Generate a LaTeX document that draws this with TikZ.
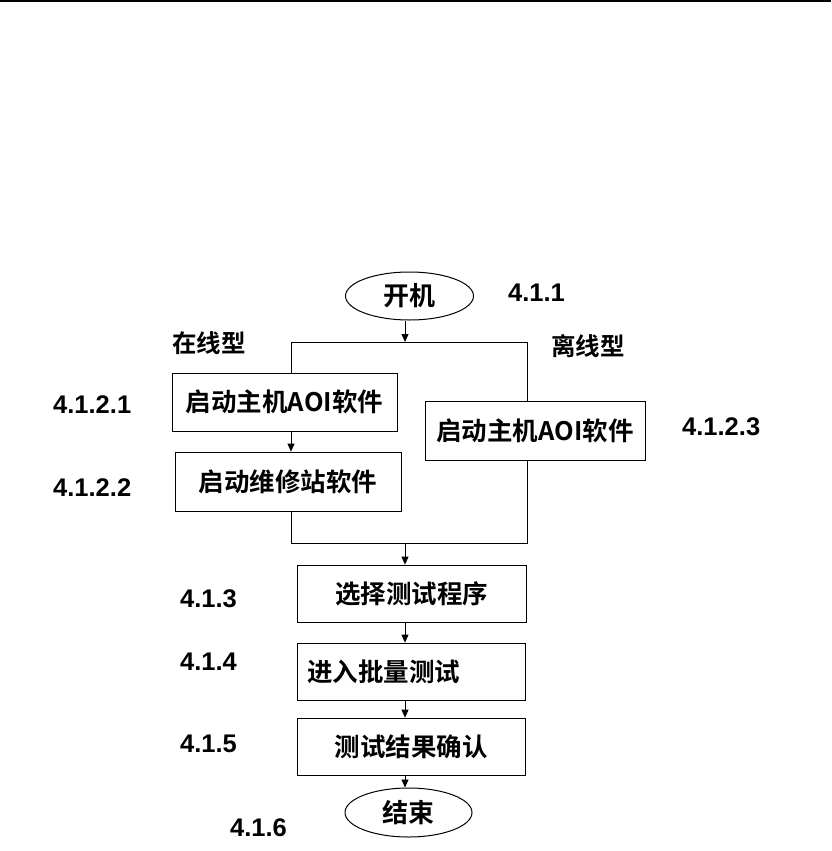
\documentclass[tikz,border=0pt]{standalone}
\usepackage{fontspec}
\setmainfont{Liberation Sans}
\newfontfamily\cjk{Noto Sans CJK SC}[BoldFont={Noto Sans CJK SC Bold}]
\newfontfamily\numf{Liberation Sans}
\usetikzlibrary{shapes.geometric,arrows.meta}
\begin{document}
\begin{tikzpicture}[x=1pt,y=-1pt,
  box/.style={draw,line width=0.8pt,rectangle,inner sep=0pt,font=\cjk\bfseries\fontsize{25.5}{28}\selectfont},
  oval/.style={draw,line width=1pt,ellipse,inner sep=0pt,font=\cjk\bfseries\fontsize{26}{28}\selectfont},
  lbl/.style={anchor=west,inner sep=0pt,font=\numf\bfseries\fontsize{25.5}{28}\selectfont},
  clbl/.style={anchor=west,inner sep=0pt,font=\cjk\bfseries\fontsize{24.5}{26}\selectfont},
  ln/.style={line width=0.8pt},
  arr/.style={line width=0.8pt,-{Triangle[length=8pt,width=7pt]}}]
\useasboundingbox (0,0) rectangle (831,851);
\fill (0,0) rectangle (831,2.3);
% nodes
\node[oval,minimum width=128pt,minimum height=48pt] (start) at (409.5,296) {开机};
\node[box,minimum width=225pt,minimum height=58pt] (b1) at (284.5,402) {启动主机AOI软件};
\node[box,minimum width=226pt,minimum height=59pt] (b2) at (288,481.5) {启动维修站软件};
\node[box,minimum width=220pt,minimum height=59pt] (b3) at (535,430.5) {启动主机AOI软件};
\node[box,minimum width=229pt,minimum height=57pt] (b4) at (411.5,593.5) {选择测试程序};
\node[box,minimum width=228pt,minimum height=57pt] (b5) at (411,671.5) {\makebox[208pt][l]{进入批量测试}};
\node[box,minimum width=228pt,minimum height=57pt] (b6) at (411,746.5) {测试结果确认};
\node[oval,minimum width=127pt,minimum height=49pt] (end) at (408.5,812.5) {结束};
% labels
\node[lbl] (l411) at (508,293) {4.1.1};
\node[clbl] (lon) at (172,343) {在线型};
\node[clbl] (loff) at (551,346) {离线型};
\node[lbl] (l4121) at (53,405) {4.1.2.1};
\node[lbl] (l4122) at (53,488) {4.1.2.2};
\node[lbl] (l4123) at (682,427) {4.1.2.3};
\node[lbl] (l413) at (180,599) {4.1.3};
\node[lbl] (l414) at (180,662) {4.1.4};
\node[lbl] (l415) at (180,744) {4.1.5};
\node[lbl] (l416) at (230,828) {4.1.6};
% junction coordinates
\coordinate (jt) at (405,342);
\coordinate (tl) at (291,342);
\coordinate (tr) at (527,342);
\coordinate (bl) at (291,543);
\coordinate (br) at (527,543);
\coordinate (jb) at (405,543);
% connectors
\draw[arr] (start.south -| jt) -- (jt);
\draw[ln] (b1.north -| tl) -- (tl) -- (tr) -- (b3.north -| tr);
\draw[arr] (b1.south -| tl) -- (b2.north -| tl);
\draw[ln] (b2.south -| bl) -- (bl) -- (br) -- (b3.south -| br);
\draw[arr] (jb) -- (b4.north -| jb);
\draw[arr] (b4.south -| jb) -- (b5.north -| jb);
\draw[arr] (b5.south -| jb) -- (b6.north -| jb);
\draw[arr] (b6.south -| jb) -- (end.north -| jb);
\end{tikzpicture}
\end{document}
